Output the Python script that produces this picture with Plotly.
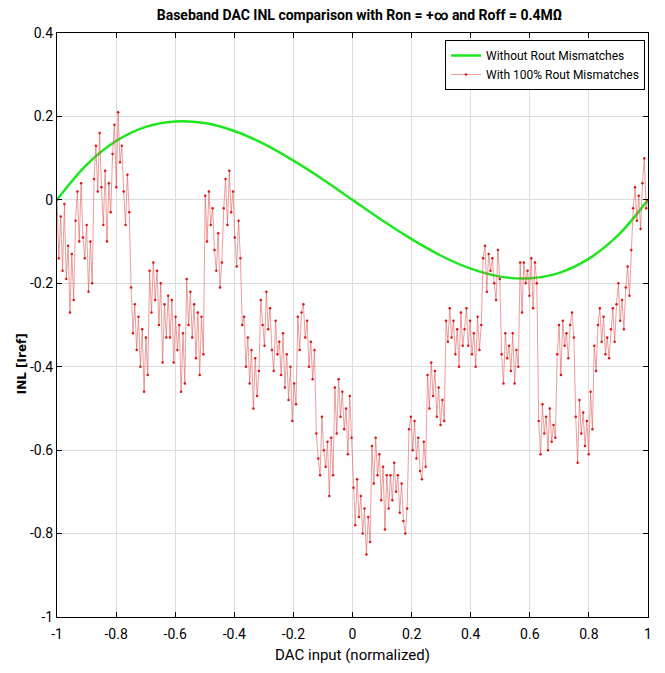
import numpy as np
import plotly.graph_objects as go

# green: without Rout mismatches (read at x = -1, -0.9, ..., 1)
x_ideal = [-1.0, -0.9, -0.8, -0.7, -0.6, -0.5, -0.4, -0.3, -0.2, -0.1, 0.0,
           0.1, 0.2, 0.3, 0.4, 0.5, 0.6, 0.7, 0.8, 0.9, 1.0]
inl_ideal = [0.0, 0.084, 0.141, 0.175, 0.188, 0.184, 0.165, 0.134, 0.094, 0.049, 0.0,
             -0.049, -0.094, -0.134, -0.165, -0.184, -0.188, -0.175, -0.141, -0.084, 0.0]

# red: with 100% Rout mismatches, 10 readings per 1/16 segment
inl_mismatch = [
    0.00, -0.14, -0.04, -0.17, -0.01, -0.19, -0.11, -0.27, -0.13, -0.24,
    -0.05, 0.02, -0.10, 0.04, -0.09, -0.14, -0.06, -0.22, -0.10, -0.20,
    0.05, 0.13, 0.02, 0.16, 0.03, -0.06, 0.07, -0.10, 0.04, -0.03,
    0.11, 0.18, 0.03, 0.21, 0.09, 0.13, 0.02, -0.06, 0.06, -0.03,
    -0.21, -0.32, -0.25, -0.36, -0.28, -0.40, -0.31, -0.46, -0.33, -0.42,
    -0.17, -0.27, -0.15, -0.24, -0.17, -0.30, -0.20, -0.39, -0.25, -0.33,
    -0.23, -0.33, -0.24, -0.39, -0.28, -0.36, -0.30, -0.46, -0.32, -0.44,
    -0.19, -0.30, -0.22, -0.33, -0.25, -0.38, -0.27, -0.42, -0.28, -0.37,
    0.01, -0.10, 0.02, -0.06, -0.02, -0.12, -0.17, -0.08, -0.21, -0.15,
    -0.02, 0.05, -0.06, 0.07, -0.03, 0.02, -0.09, -0.16, -0.05, -0.14,
    -0.30, -0.28, -0.40, -0.33, -0.44, -0.36, -0.50, -0.38, -0.47, -0.41,
    -0.24, -0.30, -0.35, -0.22, -0.31, -0.26, -0.36, -0.41, -0.29, -0.37,
    -0.34, -0.42, -0.32, -0.45, -0.37, -0.48, -0.40, -0.53, -0.44, -0.49,
    -0.28, -0.36, -0.27, -0.25, -0.33, -0.29, -0.40, -0.34, -0.43, -0.36,
    -0.56, -0.62, -0.66, -0.52, -0.60, -0.64, -0.58, -0.71, -0.57, -0.66,
    -0.45, -0.56, -0.43, -0.52, -0.46, -0.55, -0.50, -0.61, -0.47, -0.57,
    -0.69, -0.78, -0.67, -0.76, -0.71, -0.80, -0.74, -0.85, -0.76, -0.82,
    -0.59, -0.68, -0.57, -0.66, -0.61, -0.72, -0.64, -0.79, -0.66, -0.74,
    -0.66, -0.72, -0.63, -0.70, -0.66, -0.75, -0.68, -0.77, -0.80, -0.74,
    -0.55, -0.52, -0.60, -0.53, -0.62, -0.57, -0.65, -0.67, -0.58, -0.64,
    -0.42, -0.50, -0.39, -0.47, -0.41, -0.52, -0.45, -0.54, -0.48, -0.53,
    -0.29, -0.34, -0.26, -0.33, -0.29, -0.37, -0.31, -0.40, -0.27, -0.35,
    -0.31, -0.26, -0.35, -0.29, -0.37, -0.32, -0.40, -0.28, -0.36, -0.30,
    -0.14, -0.11, -0.22, -0.13, -0.17, -0.14, -0.20, -0.24, -0.12, -0.19,
    -0.37, -0.44, -0.32, -0.38, -0.35, -0.41, -0.32, -0.44, -0.36, -0.40,
    -0.15, -0.27, -0.15, -0.20, -0.17, -0.23, -0.14, -0.26, -0.15, -0.20,
    -0.53, -0.61, -0.49, -0.56, -0.52, -0.60, -0.50, -0.58, -0.54, -0.57,
    -0.37, -0.30, -0.42, -0.29, -0.35, -0.32, -0.38, -0.30, -0.27, -0.33,
    -0.52, -0.63, -0.48, -0.56, -0.51, -0.59, -0.53, -0.61, -0.46, -0.55,
    -0.35, -0.41, -0.30, -0.26, -0.34, -0.28, -0.37, -0.33, -0.38, -0.31,
    -0.26, -0.34, -0.25, -0.20, -0.29, -0.24, -0.31, -0.21, -0.16, -0.23,
    -0.12, -0.02, 0.03, -0.05, 0.01, -0.07, 0.04, 0.10, -0.02, 0.00,
]
# DAC input codes, evenly spaced over [-1, 1]
x_codes = np.linspace(-1, 1, len(inl_mismatch))

xticks = [-1, -0.8, -0.6, -0.4, -0.2, 0, 0.2, 0.4, 0.6, 0.8, 1]
xtick_text = ['-1', '-0.8', '-0.6', '-0.4', '-0.2', '0', '0.2', '0.4', '0.6', '0.8', '1']
yticks = [-1, -0.8, -0.6, -0.4, -0.2, 0, 0.2, 0.4]
ytick_text = ['-1', '-0.8', '-0.6', '-0.4', '-0.2', '0', '0.2', '0.4']

font = "Roboto, sans-serif"

fig = go.Figure()
fig.add_trace(go.Scatter(
    x=x_ideal, y=inl_ideal, mode='lines', line_shape='spline',
    line=dict(color='#1ee61e', width=2.5),
    name='Without Rout Mismatches'
))
fig.add_trace(go.Scatter(
    x=x_codes, y=inl_mismatch, mode='lines+markers',
    line=dict(color='rgba(225,90,90,0.75)', width=0.8),
    marker=dict(color='#e01010', size=2.5),
    name='With 100% Rout Mismatches'
))

axis_common = dict(
    showline=True, linecolor='black', linewidth=1, mirror='ticks',
    ticks='inside', ticklen=5, tickcolor='black',
    showgrid=True, gridcolor='#dcdcdc', gridwidth=1, zeroline=False,
    tickfont=dict(family=font, size=14, color='black'),
)

# page body has an 8px margin, so the figure is sized and placed to fit
fig.update_layout(
    width=657, height=665,
    margin=dict(l=49, r=17, t=25, b=56),
    paper_bgcolor='white', plot_bgcolor='white',
    title=dict(text='<b>Baseband DAC INL comparison with Ron = +∞ and Roff = 0.4MΩ</b>',
               x=0.535, xanchor='center', y=0.99, yanchor='middle',
               font=dict(family=font, size=14, color='black')),
    xaxis=dict(range=[-1, 1], tickvals=xticks, ticktext=xtick_text,
               ticklabelstandoff=4,
               title=dict(text='DAC input (normalized)', standoff=8,
                          font=dict(family=font, size=15, color='black')),
               **axis_common),
    yaxis=dict(range=[-1, 0.4], tickvals=yticks, ticktext=ytick_text, **axis_common),
    legend=dict(x=0.995, y=0.988, xanchor='right', yanchor='top',
                bgcolor='white', bordercolor='black', borderwidth=1,
                font=dict(family=font, size=12, color='black'),
                itemwidth=30, tracegroupgap=0),
    showlegend=True,
)
fig.add_annotation(
    text='<b>INL [Iref]</b>', textangle=-90, showarrow=False,
    xref='paper', yref='paper', x=-0.059, y=0.433, xanchor='center', yanchor='middle',
    font=dict(family='DejaVu Sans', size=12, color='black')
)

fig.write_html("out.html")
